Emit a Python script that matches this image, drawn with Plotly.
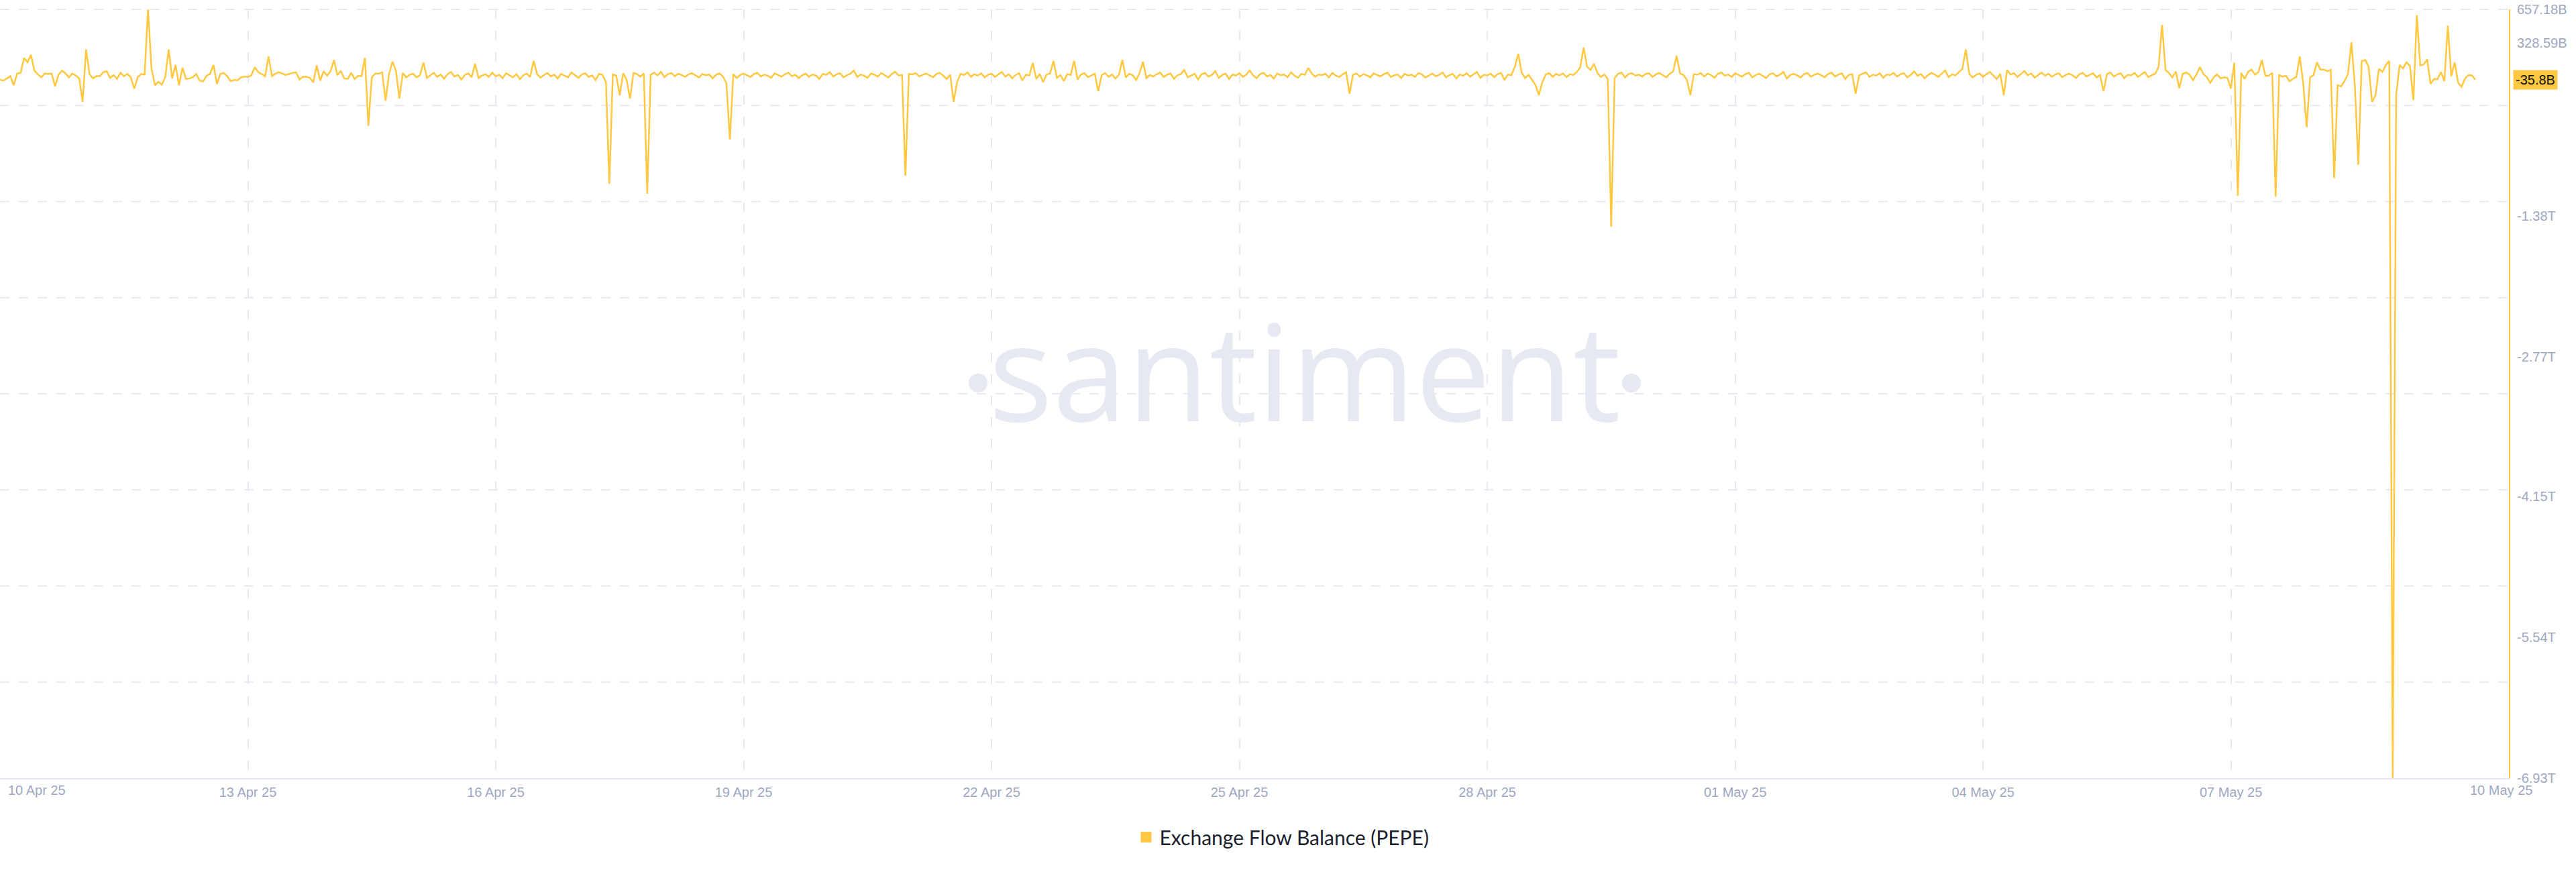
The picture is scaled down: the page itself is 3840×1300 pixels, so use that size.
import pandas as pd
import plotly.graph_objects as go

# ---- data (values in billions, hourly from 10 Apr 2025 00:00) ----
day00 = [-35, -46, -24, -2, -91, 24, 31, 179, 135, 208, 53, 16, -13, 24, 20, 24, -102, 13, 53, 27, -13, 24, 5, -24]
day01 = [-256, 263, 20, -24, -2, -2, 38, 47, -20, 9, -29, 31, -2, 20, -13, -124, -13, 20, 13, 657.18, 75, -91, -57, -86]
day02 = [-13, 263, -24, 109, -91, 82, -29, -24, -13, 20, -46, -53, 2, 20, 109, -79, 20, 31, -2, -51, -38, -42, -13, -6]
day03 = [-9, 5, 86, 38, 20, -2, 193, -2, 24, 36, 24, 9, 20, 31, 36, -35, -6, -9, -17, -62, 104, -46, 47, 2]
day04 = [47, 157, 9, 47, -24, -29, 31, -29, 2, -2, 179, -493, -13, 24, 24, 36, -245, 20, 142, 53, -223, 30, -15, 12]
day05 = [22, -14, 8, 134, -18, 5, 31, -9, 14, -27, 18, 40, -6, 11, -35, 9, 26, -12, 120, -20, 4, 17, -8, 33]
day06 = [-5, 12, -22, 28, 6, -14, 19, -31, 7, 24, -10, 150, 18, -16, 9, 30, -4, 13, -25, 21, 2, -12, 35, 8]
day07 = [-18, 14, 27, -9, 5, -40, 22, 10, -60, -1064, 15, 4, -190, 28, -35, -224, 30, 19, -7, 25, -1164, 12, 33, 6]
day08 = [41, -12, 18, 29, -3, 22, 10, -8, 16, 27, 3, -15, 20, 8, 14, -22, 11, 25, -6, -70, -627, 18, -20, 9]
day09 = [24, 7, -11, 19, 30, -4, 13, 2, -18, 26, 9, -7, 17, 34, -2, 12, -21, 6, 23, -9, 15, 4, -28, 20]
day10 = [11, 38, -5, 16, 27, -13, 8, 22, 55, -10, 14, 3, -19, 25, 12, -6, 30, 9, -15, 18, 42, 5, 10, -985]
day11 = [20, 16, 28, -4, 12, 24, 7, -12, 19, 31, 2, -30, 14, -256, -60, 22, 10, 35, -8, 17, 4, 26, -14, 11]
day12 = [23, -9, 15, 40, -6, 18, -22, 9, 27, -45, 12, 6, 130, -30, 20, -60, 14, 25, 150, -20, 8, -50, 18, 10]
day13 = [150, -35, 15, 28, -12, 6, 22, -150, 9, 30, -8, 16, -25, 12, 160, -15, 22, 8, -40, 26, 140, -20, 10, -5]
day14 = [18, 34, -10, 12, 25, -28, 7, 19, 60, -12, 4, 21, -35, 16, 30, -6, 11, 48, -18, 9, 23, -30, 14, 5]
day15 = [27, -9, 13, 55, 6, -21, 18, 32, -4, 10, -26, 24, 8, 15, -12, 36, 3, -18, 20, 11, 80, 25, -7, 14]
day16 = [9, 22, -15, 30, 5, -10, 16, 38, -175, 12, 24, -6, 18, 7, -14, 26, 10, -3, 19, 33, -11, 8, 15, -20]
day17 = [21, 4, 13, -9, 29, 17, -16, 6, 24, -2, 11, 35, -13, 9, 20, -24, 14, 3, 27, -7, 16, 40, -18, 12]
day18 = [5, 23, -11, 18, 30, -40, 14, 8, 90, 220, 30, -20, 12, -40, -90, -190, -60, 15, 28, -8, 20, 6, 25, -12]
day19 = [18, 9, 40, 85, 280, 90, 60, 120, 30, -10, 15, -30, -1488, -20, 22, 35, -15, 18, 28, 4, 14, -6, 20, 26]
day20 = [-9, 16, 30, 7, -12, 22, 45, 200, 25, 10, -40, -190, 18, 12, 30, -5, 24, 8, -18, 21, 35, 3, 14, -10]
day21 = [26, 11, -7, 19, 32, -14, 9, 23, 4, -20, 17, 28, -3, 13, 40, -25, 10, 21, 6, -15, 18, 30, -8, 12]
day22 = [24, 7, -12, 20, 33, -5, 14, 26, -30, 10, 18, -175, 5, 22, 36, -10, 13, 4, 27, -18, 15, 9, 31, -6]
day23 = [17, 28, -14, 11, 45, 2, 19, -22, 8, 30, 14, -9, 23, 55, -12, 16, 6, 38, 70, 263, 20, -15, 12, 25]
day24 = [-8, 18, 40, 5, -30, 22, -190, 60, 14, 28, -10, 19, 50, 7, 25, -16, 12, 34, 3, 21, -8, 15, 27, -12]
day25 = [10, 23, 6, -20, 18, 31, -4, 12, 26, -15, 9, -150, 20, 35, -6, 14, 28, -22, 11, 5, 30, -9, 17, 40]
day26 = [-12, 8, 22, 90, 505, 60, 30, -15, 45, -120, 20, 35, 12, -40, 15, 90, 18, -10]
tail = [-68, -13, 16, -24, -13, -20, -124, 131, -1181, 31,
        -29, 42, 64, 13, 38, 157, 2, 2, 31, -1192,
        9, -6, 2, -51, -29, -9, 193, -68, -506, -13,
        9, 135, 64, 64, 47, 60, -1008, -90, -102, -51,
        20, 334, -90, -876, 148, 157, 91, -256, -190, 71,
        42, 109, 148, -6930, -190, 109, 75, 135, 98, -239,
        600, 104, 113, 164, -79, -29, -31, 38, -51, 496,
        -2, 135, -68, -108, -24, 9, 5, -35.8]

values_b = (day00 + day01 + day02 + day03 + day04 + day05 + day06 + day07 + day08 + day09
            + day10 + day11 + day12 + day13 + day14 + day15 + day16 + day17 + day18 + day19
            + day20 + day21 + day22 + day23 + day24 + day25 + day26 + tail)
start_time = "2025-04-10 00:00"
times = pd.date_range(start_time, periods=len(values_b), freq="h")
values = [v * 1e9 for v in values_b]

series_name = "Exchange Flow Balance (PEPE)"
last_label = "-35.8B"
last_value = -35.8e9

y_range_b = [-6931, 657.5]
y_tick_vals_b = [657.18, 328.59, -1380, -2770, -4150, -5540, -6930]
y_tick_text = ["657.18B", "328.59B", "-1.38T", "-2.77T", "-4.15T", "-5.54T", "-6.93T"]

x_tick_dates = ["2025-04-10", "2025-04-13", "2025-04-16", "2025-04-19", "2025-04-22", "2025-04-25",
                "2025-04-28", "2025-05-01", "2025-05-04", "2025-05-07"]
x_tick_text = ["", "13 Apr 25", "16 Apr 25", "19 Apr 25", "22 Apr 25", "25 Apr 25",
               "28 Apr 25", "01 May 25", "04 May 25", "07 May 25"]
first_label, first_date = "10 Apr 25", "2025-04-10"
last_date_label, last_date = "10 May 25", "2025-05-10"
x_range = ["2025-04-10 00:00", "2025-05-10 08:45"]

LINE = "#FFC840"
GRID = "#e6e9f2"
TICK = "#9ea7c1"

fig = go.Figure()
fig.add_trace(go.Scatter(x=times, y=values, mode="lines", line=dict(color=LINE, width=2.5),
                         showlegend=False, name=series_name))
fig.add_trace(go.Scatter(x=[None], y=[None], mode="markers", name=series_name,
                         marker=dict(symbol="square", size=18, color=LINE)))

shapes = []
# watermark (below grid)
shapes.append(dict(type="rect", xref="paper", yref="paper", x0=0.42, x1=0.62, y0=0.44, y1=0.60,
                   line=dict(width=0), fillcolor="rgba(0,0,0,0)", layer="below",
                   label=dict(text="santiment", textposition="middle center",
                              font=dict(family="Open Sans", size=200, color=GRID))))
for cx in (1458, 2432):
    shapes.append(dict(type="circle", xref="paper", yref="paper",
                       x0=(cx - 14) / 3740, x1=(cx + 14) / 3740,
                       y0=(1160 - 585) / 1146, y1=(1160 - 557) / 1146,
                       line=dict(width=0), fillcolor=GRID, layer="below"))
for k in range(1, 9):
    shapes.append(dict(type="line", xref="paper", yref="paper", x0=0, x1=1, y0=k / 8, y1=k / 8,
                       line=dict(color=GRID, width=2, dash="14px,14px"), layer="below"))

annotations = [
    dict(text=last_label, xref="paper", x=1, xanchor="left", xshift=6, yref="y", y=last_value,
         showarrow=False, font=dict(family="Liberation Sans, Arial", size=20, color="#111111"),
         bgcolor=LINE, borderpad=3),
    dict(text=first_label, xref="x", x=first_date, xanchor="left", xshift=10, yref="paper", y=0,
         yanchor="top", yshift=-5, showarrow=False,
         font=dict(family="Liberation Sans, Arial", size=20, color=TICK)),
    dict(text=last_date_label, xref="x", x=last_date, xanchor="center", xshift=33, yref="paper", y=0,
         yanchor="top", yshift=-5, showarrow=False,
         font=dict(family="Liberation Sans, Arial", size=20, color=TICK)),
]

fig.update_layout(
    width=3840, height=1300,
    margin=dict(l=0, r=100, t=14, b=140),
    paper_bgcolor="white", plot_bgcolor="white",
    shapes=shapes, annotations=annotations,
    showlegend=True,
    legend=dict(orientation="h", x=1912 / 3740, xanchor="center", y=-88 / 1146, yanchor="middle",
                font=dict(family="Lato, Open Sans", size=30, color="#1b1e2c"), itemclick=False),
    xaxis=dict(type="date", range=x_range, tickvals=x_tick_dates, ticktext=x_tick_text,
               tickfont=dict(family="Liberation Sans, Arial", size=20, color=TICK),
               showgrid=True, gridcolor=GRID, gridwidth=2, griddash="14px,18px",
               showline=True, linecolor="#e3e7f0", linewidth=2, zeroline=False,
               ticks="outside", ticklen=2, tickcolor="rgba(0,0,0,0)"),
    yaxis=dict(side="right", range=[v * 1e9 for v in y_range_b],
               tickvals=[v * 1e9 for v in y_tick_vals_b], ticktext=y_tick_text,
               tickfont=dict(family="Liberation Sans, Arial", size=20, color=TICK),
               showgrid=False, zeroline=False, showline=True, linecolor=LINE, linewidth=2,
               ticks="outside", ticklen=6, tickcolor="rgba(0,0,0,0)"),
)

fig.write_html("out.html", config={"displayModeBar": False},
               post_script="document.body.style.margin='0';document.body.style.overflow='hidden';")
